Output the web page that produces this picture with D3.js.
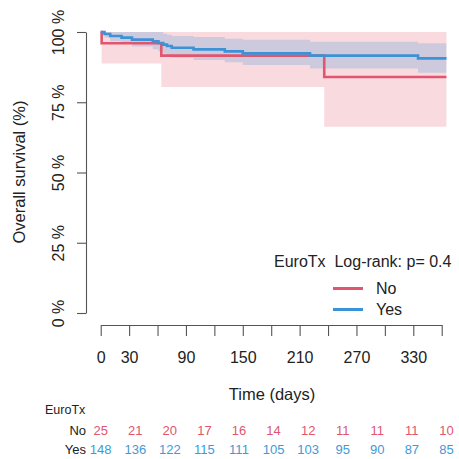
<!DOCTYPE html>
<html>
<head>
<meta charset="utf-8">
<script src="https://cdn.jsdelivr.net/npm/d3@7"></script>
<style>
  body { margin: 0; background: #fff; }
  text { font-family: "Liberation Sans", Arial, sans-serif; }
</style>
</head>
<body>
<div id="chart"></div>
<script>
// survival curves (time in days, survival in %)
var timeNo  = [0, 1, 64, 236, 365];
var survNo  = [100, 96, 91.6, 84, 84];
var lowerNo = [100, 88.8, 80.4, 66.3, 66.3];
var upperNo = [100, 100, 100, 100, 100];

var timeYes  = [0, 4, 10, 22, 33, 55, 61, 66, 70, 75, 98, 131, 150, 221, 335, 365];
var survYes  = [100, 99.3, 98.6, 98.0, 97.3, 96.7, 96.1, 95.5, 95.0, 94.4, 93.8, 93.1, 92.4, 91.6, 90.6, 90.6];
var lowerYes = [100, 98.0, 96.7, 95.7, 94.8, 93.9, 93.1, 92.3, 91.5, 90.8, 90.0, 89.2, 88.3, 87.0, 85.5, 85.5];
var upperYes = [100, 100, 100, 100, 100, 100, 100, 99.4, 99.0, 98.6, 98.2, 97.6, 97.2, 96.5, 96.0, 96.0];

var xTicks  = [0, 30, 60, 90, 120, 150, 180, 210, 240, 270, 300, 330, 360];
var xLabels = [0, 30, 90, 150, 210, 270, 330];
var yTicks  = [0, 25, 50, 75, 100];

// numbers at risk
var riskTimes = [0, 36.5, 73, 109.5, 146, 182.5, 219, 255.5, 292, 328.5, 365];
var riskNo  = [25, 21, 20, 17, 16, 14, 12, 11, 11, 11, 10];
var riskYes = [148, 136, 122, 115, 111, 105, 103, 95, 90, 87, 85];

var red = "#E0566F", blue = "#3B92D6";
var redTxt = "#E0566F", blueTxt = "#3E9AD8";

var svg = d3.select("#chart").append("svg")
	.attr("width", 459).attr("height", 459);

var x = d3.scaleLinear().domain([0, 360]).range([100.7, 441.7]);
var y = d3.scaleLinear().domain([0, 100]).range([313, 32]);

function rows(t, s, lo, hi) {
	return t.map(function(d, i) { return {t: d, s: s[i], lo: lo[i], hi: hi[i]}; });
}
var groups = [
	{name: "No", color: red, data: rows(timeNo, survNo, lowerNo, upperNo)},
	{name: "Yes", color: blue, data: rows(timeYes, survYes, lowerYes, upperYes)}
];

var area = d3.area()
	.curve(d3.curveStepAfter)
	.x(function(d) { return x(d.t); })
	.y0(function(d) { return y(d.lo); })
	.y1(function(d) { return y(d.hi); });

var line = d3.line()
	.curve(d3.curveStepAfter)
	.x(function(d) { return x(d.t); })
	.y(function(d) { return y(d.s); });

svg.selectAll(".band").data(groups).enter().append("path")
	.attr("class", "band")
	.attr("d", function(d) { return area(d.data); })
	.attr("fill", function(d) { return d.color; })
	.attr("fill-opacity", 0.22);

svg.selectAll(".curve").data(groups).enter().append("path")
	.attr("class", "curve")
	.attr("d", function(d) { return line(d.data); })
	.attr("fill", "none")
	.attr("stroke", function(d) { return d.color; })
	.attr("stroke-width", 2.6);

// y axis
var yAxis = svg.append("g")
	.attr("transform", "translate(86,0)")
	.call(d3.axisLeft(y).tickValues(yTicks).tickSize(9).tickSizeOuter(0)
		.tickFormat(function(d) { return d + " %"; }));
yAxis.selectAll("text")
	.attr("transform", "rotate(-90)")
	.attr("x", 0).attr("y", -22).attr("dy", 0)
	.attr("text-anchor", "middle")
	.attr("font-size", 16).attr("fill", "#222");

// x axis
var xAxis = svg.append("g")
	.attr("transform", "translate(0,325)")
	.call(d3.axisBottom(x).tickValues(xTicks).tickSize(11).tickSizeOuter(0)
		.tickFormat(function(d) { return xLabels.indexOf(d) >= 0 ? d : ""; }));
xAxis.selectAll("text")
	.attr("y", 38).attr("dy", 0)
	.attr("font-size", 16).attr("fill", "#222");

svg.selectAll(".domain, .tick line").attr("stroke", "#555").attr("stroke-width", 1.1);

// axis titles
svg.append("text")
	.attr("transform", "translate(25,172) rotate(-90)")
	.attr("text-anchor", "middle")
	.attr("font-size", 16.5).attr("fill", "#222")
	.text("Overall survival (%)");

svg.append("text")
	.attr("x", 272).attr("y", 400)
	.attr("text-anchor", "middle")
	.attr("font-size", 16.5).attr("fill", "#222")
	.text("Time (days)");

// legend
svg.append("text")
	.attr("x", 274).attr("y", 267)
	.attr("font-size", 16).attr("fill", "#222")
	.attr("xml:space", "preserve")
	.text("EuroTx  Log-rank: p= 0.4");

var leg = svg.selectAll(".leg").data(groups).enter().append("g")
	.attr("class", "leg")
	.attr("transform", function(d, i) { return "translate(0," + (288.5 + i * 21) + ")"; });
leg.append("line")
	.attr("x1", 333).attr("x2", 363)
	.attr("stroke", function(d) { return d.color; })
	.attr("stroke-width", 3);
leg.append("text")
	.attr("x", 376).attr("y", 5.5)
	.attr("font-size", 16).attr("fill", "#222")
	.text(function(d) { return d.name; });

// risk table
svg.append("text")
	.attr("x", 45).attr("y", 414)
	.attr("font-size", 12.5).attr("fill", "#222")
	.text("EuroTx");

var riskRows = [
	{name: "No", color: redTxt, vals: riskNo, yy: 435},
	{name: "Yes", color: blueTxt, vals: riskYes, yy: 454}
];
riskRows.forEach(function(r) {
	svg.append("text")
		.attr("x", 86).attr("y", r.yy)
		.attr("text-anchor", "end")
		.attr("font-size", 13).attr("fill", "#222")
		.text(r.name);
	svg.selectAll(null).data(r.vals).enter().append("text")
		.attr("x", function(d, i) { return x(riskTimes[i]); })
		.attr("y", r.yy)
		.attr("text-anchor", "middle")
		.attr("font-size", 13).attr("fill", r.color)
		.text(function(d) { return d; });
});
</script>
</body>
</html>
